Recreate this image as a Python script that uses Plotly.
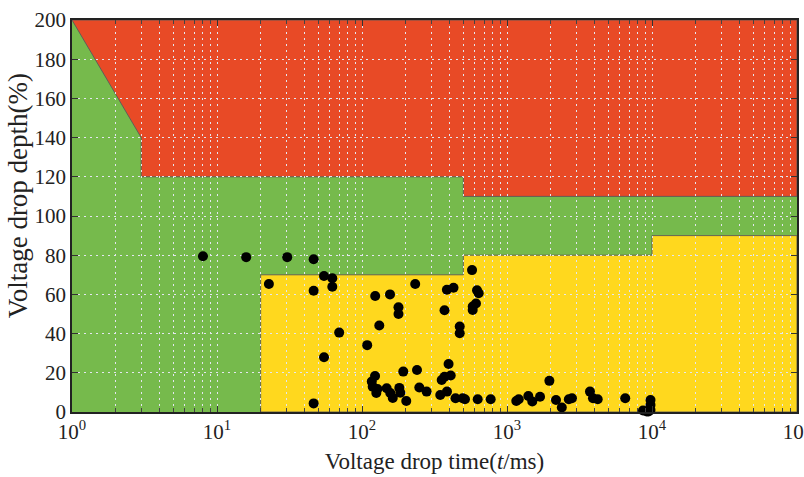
import plotly.graph_objects as go

# Region boundaries (time in ms, depth in %)
upper_t = [1, 3, 3, 500, 500, 100000]
upper_d = [200, 140, 120, 120, 110, 110]
lower_t = [20, 20, 500, 500, 10000, 10000, 100000]
lower_d = [0, 70, 70, 80, 80, 90, 90]

# Recorded voltage drop events
event_t = [8.0, 15.9, 30.5, 46.4, 54.7, 62.4, 62.4, 22.8, 46.4, 69.6,
           54.7, 46.4, 108.6, 123.3, 156, 178.5, 178.5, 131.6, 232.8, 385,
           427.6, 370.7, 472, 472, 574, 621, 638, 611, 580, 580,
           123, 116.8, 118.5, 127.8, 125.5, 148, 156.7, 163, 180.9, 183.8,
           202, 192.6, 239.5, 248.5, 279, 346.5, 354.5, 370.7, 409, 395.5,
           385.5, 441.6, 494.8, 513, 628, 772, 1159, 1205, 1403, 1494,
           1690, 1960, 2178, 2388, 2669, 2806, 3735, 3918, 4223, 6537,
           8670, 9190, 9770, 9770, 9770, 9460]
event_d = [79.5, 79.0, 79.0, 77.9, 69.4, 68.2, 63.9, 65.3, 61.9, 40.5,
           27.9, 4.4, 34.1, 59.2, 60.0, 53.4, 50.0, 44.1, 65.3, 62.4,
           63.4, 51.9, 43.6, 40.2, 72.4, 62.1, 60.6, 55.4, 53.8, 52.0,
           18.4, 15.5, 12.9, 11.7, 9.7, 12.1, 9.7, 7.2, 12.3, 9.8,
           5.6, 20.6, 21.4, 12.5, 10.4, 8.7, 16.3, 18.0, 18.6, 24.5,
           10.4, 7.0, 7.0, 6.5, 6.5, 6.5, 5.6, 6.5, 8.2, 5.4,
           7.8, 15.9, 6.1, 2.3, 6.5, 7.0, 10.4, 7.0, 6.5, 7.0,
           0.8, 0.3, 6.1, 3.6, 1.0, 0.3]

x_tickvals = [1, 10, 100, 1000, 10000, 100000]
x_ticktext = ["10<sup>0</sup>", "10<sup>1</sup>", "10<sup>2</sup>",
              "10<sup>3</sup>", "10<sup>4</sup>", "10<sup>5</sup>"]
y_tickvals = [0, 20, 40, 60, 80, 100, 120, 140, 160, 180, 200]

RED = "#E84A26"
GREEN = "#76BA4C"
YELLOW = "#FFD81E"
EDGE = "rgba(90,90,90,0.9)"
GRID = "rgba(228,230,240,1)"
FONT = "Liberation Serif"

x_min, x_max = x_tickvals[0], x_tickvals[-1]
y_min, y_max = y_tickvals[0], y_tickvals[-1]


def path_of(xs, ys):
    pts = " L ".join(f"{x},{y}" for x, y in zip(xs, ys))
    return "M " + pts + " Z"


green_path = path_of(upper_t + [x_max, x_min], upper_d + [y_min, y_min])
red_path = path_of(upper_t + [x_max], upper_d + [y_max])
yellow_path = path_of(lower_t + [x_max], lower_d + [y_min])

fig = go.Figure()

fig.add_trace(go.Scatter(
    x=event_t, y=event_d, mode="markers",
    marker=dict(color="black", size=10, line=dict(width=0)),
    cliponaxis=False, showlegend=False,
))

shape_style = dict(type="path", xref="x", yref="y", layer="below")
fig.update_layout(shapes=[
    dict(path=green_path, fillcolor=GREEN, line=dict(width=0), **shape_style),
    dict(path=red_path, fillcolor=RED, line=dict(color=EDGE, width=1), **shape_style),
    dict(path=yellow_path, fillcolor=YELLOW, line=dict(color=EDGE, width=1), **shape_style),
])

fig.update_layout(
    width=804, height=477,
    margin=dict(l=72, r=7, t=20, b=65),
    paper_bgcolor="white",
    plot_bgcolor=GREEN,
    font=dict(family=FONT, color="#222", size=21),
    xaxis=dict(
        type="log", range=[0, 5.00001],
        tickvals=x_tickvals, ticktext=x_ticktext,
        ticklabeloverflow="allow", automargin=False,
        ticks="inside", ticklen=6, tickcolor="#333",
        showline=True, linecolor="#222", linewidth=1.5, mirror="allticks",
        showgrid=True, gridcolor=GRID, griddash="2px,4px", gridwidth=1.2,
        minor=dict(dtick="D1", ticks="inside", ticklen=4, tickcolor="#444",
                   showgrid=True, gridcolor=GRID, griddash="2px,4px", gridwidth=1.2),
        tickfont=dict(family=FONT, size=21),
        title=dict(text="Voltage drop time(<i>t</i>/ms)",
                   font=dict(family=FONT, size=23), standoff=10),
        zeroline=False,
    ),
    yaxis=dict(
        range=[y_min, y_max],
        tickvals=y_tickvals, automargin=False,
        ticks="inside", ticklen=6, tickcolor="#333",
        showline=True, linecolor="#222", linewidth=1.5, mirror="allticks",
        showgrid=True, gridcolor=GRID, griddash="2px,4px", gridwidth=1.2,
        tickfont=dict(family=FONT, size=21),
        zeroline=False,
    ),
    annotations=[dict(
        text="Voltage drop depth(%)", textangle=-90,
        xref="paper", yref="paper", x=-0.074, y=0.551,
        xanchor="center", yanchor="middle", showarrow=False,
        font=dict(family=FONT, size=27, color="#222"),
    )],
)

fig.write_html("out.html")
